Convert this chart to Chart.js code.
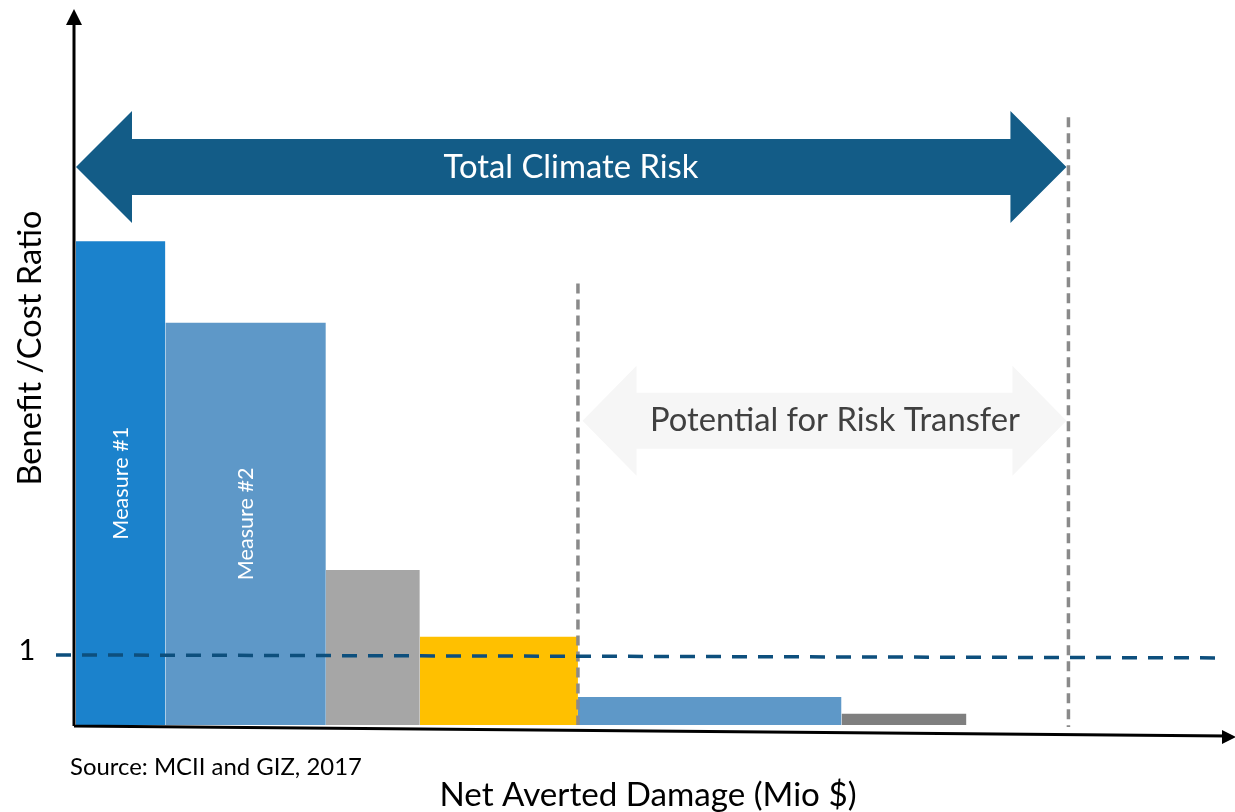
<!DOCTYPE html>
<html>
<head>
<meta charset="utf-8">
<script src="https://cdn.jsdelivr.net/npm/chart.js@4.4.3/dist/chart.umd.min.js"></script>
<style>
  html, body { margin: 0; padding: 0; background: #fff; }
  #wrap { width: 1235px; height: 812px; position: relative; }
</style>
</head>
<body>
<div id="wrap"><canvas id="c"></canvas></div>
<script>
// x in Mio $ (arbitrary units), y = benefit / cost ratio
const barEdges = [0, 7.8, 21.8, 30.0, 43.8, 66.8, 77.7];
const barRatios = [6.9, 5.74, 2.21, 1.26, 0.4, 0.16];
const barLabels = ['Measure #1', 'Measure #2', '', '', '', ''];
const thresholdRatio = 1;
const totalRiskEnd = 86.6;
const transferStart = 44.2;

const barColors = ['#1b82cc', '#5e98c8', '#a6a6a6', '#ffc000', '#5e98c8', '#7f7f7f'];
const FONT = 'Lato, "Open Sans", sans-serif';

const datasets = barRatios.map((h, i) => ({
    label: barLabels[i] || `Measure ${i + 1}`,
    data: [
        { x: barEdges[i], y: 0 },
        { x: barEdges[i], y: h },
        { x: barEdges[i + 1], y: h },
        { x: barEdges[i + 1], y: 0 }
    ],
    backgroundColor: barColors[i],
    borderWidth: 0,
    pointRadius: 0,
    fill: 'origin',
    tension: 0
}));

// pick a font size so the text spans the wanted width
function fitFont(ctx, text, width) {
    ctx.font = `20px ${FONT}`;
    const w = ctx.measureText(text).width;
    ctx.font = `${(20 * width / w).toFixed(2)}px ${FONT}`;
}

function doubleArrow(ctx, x0, x1, yc, shaft, head, headLen, color) {
    ctx.save();
    ctx.fillStyle = color;
    ctx.beginPath();
    ctx.moveTo(x0, yc);
    ctx.lineTo(x0 + headLen, yc - head);
    ctx.lineTo(x0 + headLen, yc - shaft);
    ctx.lineTo(x1 - headLen, yc - shaft);
    ctx.lineTo(x1 - headLen, yc - head);
    ctx.lineTo(x1, yc);
    ctx.lineTo(x1 - headLen, yc + head);
    ctx.lineTo(x1 - headLen, yc + shaft);
    ctx.lineTo(x0 + headLen, yc + shaft);
    ctx.lineTo(x0 + headLen, yc + head);
    ctx.closePath();
    ctx.fill();
    ctx.restore();
}

const overlay = {
    id: 'overlay',
    afterDatasetsDraw(chart) {
        const { ctx, chartArea, scales: { x, y } } = chart;
        const base = y.getPixelForValue(0);

        // vertical dashed markers
        ctx.save();
        ctx.strokeStyle = '#8a8a8a';
        ctx.lineWidth = 3.5;
        ctx.setLineDash([10, 6]);
        const xs = x.getPixelForValue(barEdges[4]);
        ctx.beginPath();
        ctx.moveTo(xs, y.getPixelForValue(6.3));
        ctx.lineTo(xs, base);
        const xe = x.getPixelForValue(totalRiskEnd);
        ctx.moveTo(xe, y.getPixelForValue(8.67));
        ctx.lineTo(xe, base + 2);
        ctx.stroke();
        ctx.restore();

        // threshold line at ratio 1
        const y1 = y.getPixelForValue(thresholdRatio);
        ctx.save();
        ctx.strokeStyle = '#0d4f7d';
        ctx.lineWidth = 3.5;
        ctx.setLineDash([15, 11]);
        ctx.beginPath();
        ctx.moveTo(56, y1);
        ctx.lineTo(chartArea.right, y1 + 3);
        ctx.stroke();
        ctx.restore();

        ctx.save();
        ctx.fillStyle = '#000';
        ctx.font = `29px ${FONT}`;
        ctx.textAlign = 'center';
        ctx.textBaseline = 'middle';
        ctx.fillText('1', 27, y1 - 4);
        ctx.restore();

        // arrows
        const ty = y.getPixelForValue(7.96);
        doubleArrow(ctx, x.getPixelForValue(0), xe - 2, ty, 28, 56, 56, '#135c87');
        const py = y.getPixelForValue(4.34);
        doubleArrow(ctx, x.getPixelForValue(transferStart), xe - 2, py, 28, 55, 54, '#f6f6f6');

        ctx.save();
        ctx.textAlign = 'center';
        ctx.textBaseline = 'middle';
        fitFont(ctx, 'Total Climate Risk', 255);
        ctx.fillStyle = '#fff';
        ctx.fillText('Total Climate Risk', 571, ty);
        fitFont(ctx, 'Potential for Risk Transfer', 370);
        ctx.fillStyle = '#404040';
        ctx.fillText('Potential for Risk Transfer', 835, py);
        ctx.restore();

        // bar labels
        barLabels.forEach((lab, i) => {
            if (!lab) return;
            const cx = x.getPixelForValue((barEdges[i] + barEdges[i + 1]) / 2);
            const cy = y.getPixelForValue(barRatios[i] * 0.5);
            ctx.save();
            ctx.translate(cx, cy);
            ctx.rotate(-Math.PI / 2);
            ctx.fillStyle = '#fff';
            fitFont(ctx, lab, 113);
            ctx.textAlign = 'center';
            ctx.textBaseline = 'middle';
            ctx.fillText(lab, 0, 0);
            ctx.restore();
        });

        // axes with arrow heads
        ctx.save();
        ctx.strokeStyle = '#000';
        ctx.fillStyle = '#000';
        ctx.lineWidth = 3;
        const ax = chartArea.left - 2;
        ctx.beginPath();
        ctx.moveTo(ax, base + 1);
        ctx.lineTo(ax, 22);
        ctx.moveTo(ax, base + 1);
        ctx.lineTo(1228, base + 11);
        ctx.stroke();
        ctx.beginPath();
        ctx.moveTo(ax, 9);
        ctx.lineTo(ax - 8, 25);
        ctx.lineTo(ax + 8, 25);
        ctx.closePath();
        ctx.fill();
        ctx.beginPath();
        ctx.moveTo(1236, base + 12);
        ctx.lineTo(1222, base + 5);
        ctx.lineTo(1222, base + 19);
        ctx.closePath();
        ctx.fill();

        // titles
        ctx.textBaseline = 'middle';
        ctx.textAlign = 'center';
        fitFont(ctx, 'Net Averted Damage (Mio $)', 417);
        ctx.fillText('Net Averted Damage (Mio $)', 648, 795);
        ctx.save();
        ctx.translate(30, 348);
        ctx.rotate(-Math.PI / 2);
        fitFont(ctx, 'Benefit /Cost Ratio', 275);
        ctx.fillText('Benefit /Cost Ratio', 0, 0);
        ctx.restore();
        ctx.textAlign = 'left';
        fitFont(ctx, 'Source: MCII and GIZ, 2017', 292);
        ctx.fillText('Source: MCII and GIZ, 2017', 70, 767);
        ctx.restore();
    }
};

new Chart(document.getElementById('c'), {
    type: 'line',
    data: { datasets },
    options: {
        responsive: true,
        maintainAspectRatio: false,
        animation: false,
        layout: { padding: { left: 76, right: 13, top: 10, bottom: 87 } },
        plugins: { legend: { display: false }, tooltip: { enabled: false } },
        scales: {
            x: { type: 'linear', min: 0, max: 100, display: false },
            y: { min: 0, max: 10.2, display: false }
        }
    },
    plugins: [overlay]
});
</script>
</body>
</html>
